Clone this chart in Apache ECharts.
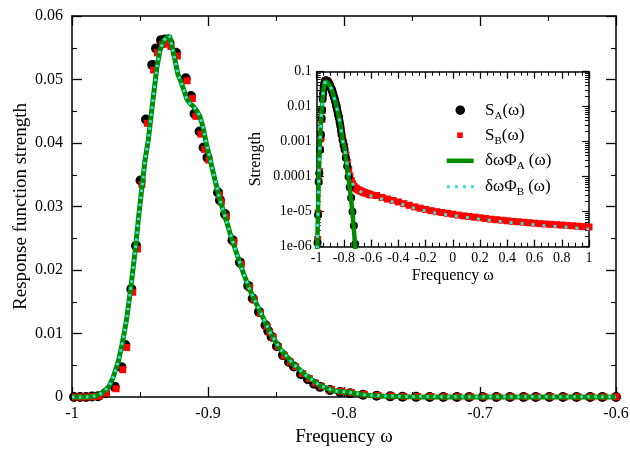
<!DOCTYPE html>
<html>
<head>
<meta charset="utf-8">
<script src="https://cdn.jsdelivr.net/npm/echarts@6/dist/echarts.min.js"></script>
<style>html,body{margin:0;padding:0;background:#fff}#c{width:630px;height:453px}</style>
</head>
<body>
<div id="c"></div>
<script>
// ---- data ----
const omegaMain = [-0.9985,-0.994,-0.9897,-0.9853,-0.9809,-0.9757,-0.9686,-0.9637,-0.9608,-0.9564,-0.9529,-0.9496,-0.9456,-0.941,-0.9382,-0.9345,-0.9316,-0.9283,-0.9235,-0.9164,-0.9125,-0.9099,-0.9062,-0.9033,-0.9004,-0.8926,-0.8912,-0.8875,-0.882,-0.8765,-0.8704,-0.8671,-0.8625,-0.8577,-0.8557,-0.8532,-0.8493,-0.8449,-0.8404,-0.8368,-0.8316,-0.8265,-0.822,-0.8176,-0.8103,-0.8029,-0.7956,-0.786,-0.776,-0.766,-0.757,-0.747,-0.737,-0.727,-0.717,-0.708,-0.698,-0.688,-0.678,-0.668,-0.659,-0.649,-0.639,-0.629,-0.619,-0.61,-0.6];
const sA = [2e-7,1.3e-6,8e-6,7e-5,1.25e-4,5.8e-4,0.0016,0.0047,0.0082,0.017,0.0238,0.0341,0.0437,0.0523,0.0549,0.0562,0.0563,0.0558,0.0542,0.0502,0.0474,0.0446,0.0418,0.0393,0.0377,0.0322,0.031,0.0288,0.0247,0.0212,0.0175,0.0155,0.0134,0.0113,0.0104,0.0095,0.008,0.0066,0.0055,0.0048,0.0036,0.0028,0.0021,0.0016,0.0011,0.0008,0.0006,3.5e-4,2e-4,1e-4,5e-5,2.5e-5,1e-5,4e-6,1.2e-6,3e-7,1e-7,5e-8,2e-8,1e-8,5e-9,3e-9,2e-9,1e-9,6e-10,4e-10,2e-10];
const omegaB = [-0.9975,-0.993,-0.9887,-0.9843,-0.9799,-0.9747,-0.9676,-0.9627,-0.9598,-0.9554,-0.9519,-0.9486,-0.9446,-0.94,-0.9372,-0.9335,-0.9306,-0.9273,-0.9225,-0.9154,-0.9115,-0.9089,-0.9052,-0.9023,-0.8994,-0.8916,-0.8902,-0.8865,-0.881,-0.8755,-0.8694,-0.8661,-0.8615,-0.8567,-0.8547,-0.8522,-0.8483,-0.8439,-0.8394,-0.8358,-0.8306,-0.8255,-0.821,-0.8166,-0.8093,-0.8019,-0.7946,-0.785,-0.775,-0.765,-0.756,-0.746,-0.736,-0.726,-0.716,-0.707,-0.697,-0.687,-0.677,-0.667,-0.658,-0.648,-0.638,-0.628,-0.618,-0.609,-0.6];
const sB = [4e-7,1.6e-6,9e-6,7.5e-5,1.4e-4,6e-4,0.0013,0.0043,0.0078,0.0165,0.0233,0.0335,0.0431,0.0515,0.0542,0.0555,0.0556,0.0552,0.0537,0.0498,0.047,0.0442,0.0414,0.039,0.0373,0.0318,0.0307,0.0284,0.0244,0.0209,0.0172,0.0153,0.0132,0.0111,0.0102,0.0094,0.0079,0.0065,0.0055,0.0048,0.0037,0.0029,0.0022,0.0017,0.0012,0.0009,0.0007,4.2e-4,2.6e-4,1.6e-4,1.05e-4,7.8e-5,6.2e-5,5.3e-5,4.8e-5,4.5e-5,4.25e-5,4.05e-5,3.9e-5,3.75e-5,3.6e-5,3.5e-5,3.4e-5,3.3e-5,3.2e-5,3.1e-5,3.0e-5];
const omegaTail = [-0.56,-0.52,-0.48,-0.44,-0.4,-0.36,-0.32,-0.28,-0.24,-0.2,-0.16,-0.12,-0.08,-0.04,0,0.04,0.08,0.12,0.16,0.2,0.24,0.28,0.32,0.36,0.4,0.44,0.48,0.52,0.56,0.6,0.64,0.68,0.72,0.76,0.8,0.84,0.88,0.92,0.96,1.0];
const sBTail = [2.9e-5,2.55e-5,2.3e-5,2.1e-5,1.9e-5,1.7e-5,1.52e-5,1.37e-5,1.26e-5,1.16e-5,1.07e-5,1.0e-5,9.5e-6,9.0e-6,8.5e-6,8.0e-6,7.6e-6,7.3e-6,7.0e-6,6.7e-6,6.4e-6,6.1e-6,5.9e-6,5.7e-6,5.5e-6,5.3e-6,5.15e-6,5.0e-6,4.85e-6,4.7e-6,4.55e-6,4.45e-6,4.35e-6,4.25e-6,4.15e-6,4.05e-6,3.95e-6,3.85e-6,3.75e-6,3.65e-6];
const phiBTail = [2.6e-5,2.3e-5,2.1e-5,1.9e-5,1.75e-5,1.55e-5,1.4e-5,1.25e-5,1.15e-5,1.06e-5,9.8e-6,9.0e-6,8.6e-6,8.2e-6,7.8e-6,7.4e-6,7.0e-6,6.7e-6,6.4e-6,6.1e-6,5.9e-6,5.6e-6,5.4e-6,5.2e-6,5.0e-6,4.85e-6,4.7e-6,4.55e-6,4.4e-6,4.25e-6,4.1e-6,4.0e-6,3.9e-6,3.8e-6,3.7e-6,3.6e-6,3.5e-6,3.4e-6,3.3e-6,3.2e-6];
const omegaPhi = [-1.0,-0.995,-0.99,-0.9868,-0.982,-0.978,-0.973,-0.9699,-0.9657,-0.9625,-0.9596,-0.9566,-0.9535,-0.9507,-0.948,-0.9463,-0.9439,-0.9402,-0.9375,-0.9353,-0.9324,-0.9283,-0.9257,-0.9243,-0.9221,-0.9193,-0.9157,-0.9132,-0.9108,-0.9081,-0.9059,-0.9037,-0.901,-0.8985,-0.8949,-0.8912,-0.8875,-0.8838,-0.8789,-0.874,-0.8691,-0.8618,-0.8544,-0.8471,-0.8373,-0.8274,-0.8176,-0.8079,-0.7956,-0.785,-0.77,-0.755,-0.74,-0.728,-0.718,-0.705,-0.69,-0.67,-0.64,-0.6];
const phiA = [1e-7,1.5e-6,1.2e-5,5e-5,2e-4,6e-4,0.0016,0.003,0.0058,0.009,0.0126,0.0175,0.0231,0.029,0.0341,0.0373,0.0405,0.0473,0.052,0.0546,0.0562,0.0569,0.0545,0.0531,0.0508,0.0493,0.047,0.0462,0.0458,0.045,0.0442,0.0425,0.0397,0.0375,0.0342,0.031,0.0285,0.0258,0.0226,0.0195,0.0168,0.0135,0.0102,0.0076,0.0052,0.0033,0.0018,0.001,0.0007,3.2e-4,1.2e-4,4e-5,1.2e-5,3.5e-6,1.1e-6,2e-7,5e-8,1e-8,2e-9,5e-10];
const phiB = [1e-7,1.5e-6,1.2e-5,5e-5,2e-4,6e-4,0.0016,0.003,0.0058,0.009,0.0126,0.0175,0.0231,0.029,0.0341,0.0373,0.0405,0.0473,0.052,0.0546,0.0562,0.0569,0.0545,0.0531,0.0508,0.0493,0.047,0.0462,0.0458,0.045,0.0442,0.0425,0.0397,0.0375,0.0342,0.031,0.0285,0.0258,0.0226,0.0195,0.0168,0.0135,0.0102,0.0076,0.0052,0.0033,0.0018,0.001,0.0007,3.6e-4,1.7e-4,9.5e-5,6.8e-5,5.5e-5,4.9e-5,4.4e-5,4.0e-5,3.6e-5,3.2e-5,2.8e-5];
const insetYLabels = ['1e-06','1e-05','0.0001','0.001','0.01','0.1'];
const legendNames = ['SA','SB','PhiA','PhiB'];
const legendTexts = {
  SA: '{n|S}{s|A}{n|(ω)}',
  SB: '{n|S}{s|B}{n|(ω)}',
  PhiA: '{n|δωΦ}{s|A}{n| (ω)}',
  PhiB: '{n|δωΦ}{s|B}{n| (ω)}'
};

// ---- build ----
const FONT = '"Liberation Serif", "Times New Roman", serif';
const zip = (xs, ys) => xs.map((x, i) => [x, ys[i]]);
const pos = d => d.filter(p => p[1] > 0);

const black = '#000';
const red = '#ff0000';
const green = '#008b00';
const cyan = '#40e0d0';

function xAx(grid, position, min, max, interval, minorSplit, showLabel, fs, tl, ml, extra) {
  return Object.assign({
    gridIndex: grid, type: 'value', position, min, max, interval,
    nameMoveOverlap: false,
    axisLine: {show: true, onZero: false, lineStyle: {color: black, width: 1.5}},
    axisTick: {show: true, inside: true, length: tl, lineStyle: {color: black, width: 1.3}},
    minorTick: {show: true, splitNumber: minorSplit, length: ml, lineStyle: {color: black, width: 1.1}},
    axisLabel: {show: showLabel, color: black, fontSize: fs, fontFamily: FONT, interval: 0, hideOverlap: false, showMinLabel: true, showMaxLabel: true},
    splitLine: {show: false}, minorSplitLine: {show: false}
  }, extra || {});
}

const minorLogTicks = [];
for (let e = -6; e < -1; e++) for (let k = 2; k <= 9; k++) minorLogTicks.push(+(k * Math.pow(10, e)).toPrecision(3));

const yMainLeft = xAx(0, 'left', 0, 0.06, 0.01, 2, true, 16, 10, 5, {
  name: 'Response function strength', nameLocation: 'middle', nameGap: 41,
  nameTextStyle: {fontSize: 19, color: black, fontFamily: FONT}
});
yMainLeft.axisLabel.margin = 9;
const yMainRight = xAx(0, 'right', 0, 0.06, 0.01, 2, false, 16, 10, 5);

function logAx(position, showLabel, extra) {
  return Object.assign({
    gridIndex: 1, type: 'log', logBase: 10, position, min: 1e-6, max: 0.1,
    nameMoveOverlap: false,
    axisLine: {show: true, onZero: false, lineStyle: {color: black, width: 1.5}},
    axisTick: {show: true, inside: true, length: 7, lineStyle: {color: black, width: 1.2}},
    minorTick: {show: false},
    axisLabel: {show: showLabel, color: black, fontSize: 14, fontFamily: FONT, margin: 5,
      formatter: v => insetYLabels[Math.round(Math.log10(v)) + 6]},
    splitLine: {show: false}
  }, extra || {});
}
function logMinor(position) {
  return {
    gridIndex: 1, type: 'log', logBase: 10, position, min: 1e-6, max: 0.1,
    axisLine: {show: false, onZero: false},
    axisTick: {show: true, inside: true, length: 4, customValues: minorLogTicks, lineStyle: {color: black, width: 1}},
    axisLabel: {show: false}, splitLine: {show: false}
  };
}

const xMainBottom = xAx(0, 'bottom', -1, -0.6, 0.1, 2, true, 16, 10, 5, {
  name: 'Frequency ω', nameLocation: 'middle', nameGap: 31,
  nameTextStyle: {fontSize: 19, color: black, fontFamily: FONT}
});
xMainBottom.axisLabel.margin = 9;
const xMainTop = xAx(0, 'top', -1, -0.6, 0.1, 2, false, 16, 10, 5);
const xInBottom = xAx(1, 'bottom', -1, 1, 0.2, 4, true, 14, 7, 4, {
  name: 'Frequency ω', nameLocation: 'middle', nameGap: 21,
  nameTextStyle: {fontSize: 16, color: black, fontFamily: FONT}
});
xInBottom.axisLabel.margin = 5;
const xInTop = xAx(1, 'top', -1, 1, 0.2, 4, false, 14, 7, 4);

const yInLeft = logAx('left', true, {
  name: 'Strength', nameLocation: 'middle', nameGap: 53,
  nameTextStyle: {fontSize: 16, color: black, fontFamily: FONT}
});
const yInRight = logAx('right', false);

function legend(name, centerY, left, w, h, icon, pad) {
  return {
    show: true, orient: 'vertical', left, top: centerY - 11, padding: 0,
    itemWidth: w, itemHeight: h, selectedMode: false,
    data: [{name, icon}],
    itemStyle: {borderWidth: 0, opacity: 1}, lineStyle: {width: 0},
    formatter: n => legendTexts[n],
    textStyle: {
      padding: [0, 0, 0, pad],
      rich: {
        n: {fontSize: 17, lineHeight: 22, color: black, fontFamily: FONT, verticalAlign: 'middle'},
        s: {fontSize: 11, lineHeight: 11, color: black, fontFamily: FONT, verticalAlign: 'bottom'}
      }
    }
  };
}

const dotsIcon = 'path://M0,0h3v3h-3z M8,0h3v3h-3z M16,0h3v3h-3z M24,0h3v3h-3z';

const mainSA = zip(omegaMain, sA);
const mainSB = zip(omegaB, sB);
const mainPA = zip(omegaPhi, phiA);
const mainPB = zip(omegaPhi, phiB);

const option = {
  animation: false,
  backgroundColor: '#fff',
  textStyle: {fontFamily: FONT},
  grid: [
    {left: 72, right: 14, top: 16, bottom: 56, outerBoundsMode: 'none', containLabel: false},
    {left: 316.7, top: 71.7, width: 272.3, height: 175, show: true, backgroundColor: '#fff', borderWidth: 0, outerBoundsMode: 'none', containLabel: false}
  ],
  xAxis: [xMainBottom, xMainTop, xInBottom, xInTop],
  yAxis: [yMainLeft, yMainRight, yInLeft, yInRight, logMinor('left'), logMinor('right')],
  legend: [
    legend('SA', 112.7, 455.5, 9.5, 9.5, 'circle', 15),
    legend('SB', 137.7, 457.2, 5.6, 5.6, 'rect', 17.2),
    legend('PhiA', 163.3, 446.7, 27, 4.5, 'rect', 6.3),
    legend('PhiB', 189.3, 447, 27, 3, dotsIcon, 6)
  ],
  series: [
    {name: 'SA', type: 'scatter', xAxisIndex: 0, yAxisIndex: 0, data: mainSA, symbol: 'circle', symbolSize: 10, itemStyle: {color: black, opacity: 1}, z: 2, clip: true},
    {name: 'SB', type: 'scatter', xAxisIndex: 0, yAxisIndex: 0, data: mainSB, symbol: 'rect', symbolSize: 7, itemStyle: {color: red, opacity: 1}, z: 3, clip: true},
    {name: 'PhiA', type: 'line', xAxisIndex: 0, yAxisIndex: 0, data: mainPA, showSymbol: false, symbol: 'none', clip: false, itemStyle: {color: green}, lineStyle: {color: green, width: 5}, z: 4},
    {name: 'PhiB', type: 'line', xAxisIndex: 0, yAxisIndex: 0, data: mainPB, showSymbol: false, symbol: 'none', clip: false, itemStyle: {color: cyan}, lineStyle: {color: cyan, width: 3, type: [2.5, 4.5]}, z: 5},

    {name: 'SB', type: 'scatter', xAxisIndex: 2, yAxisIndex: 2, data: pos(mainSB.concat(zip(omegaTail, sBTail))).filter(p => p[1] >= 1e-6), symbol: 'rect', symbolSize: 7, itemStyle: {color: red, opacity: 1}, z: 6, clip: true},
    {name: 'SA', type: 'scatter', xAxisIndex: 2, yAxisIndex: 2, data: pos(mainSA).filter(p => p[1] >= 1e-6), symbol: 'circle', symbolSize: 8, itemStyle: {color: black, opacity: 1}, z: 7, clip: true},
    {name: 'PhiA', type: 'line', xAxisIndex: 2, yAxisIndex: 2, data: pos(mainPA), showSymbol: false, symbol: 'none', clip: true, itemStyle: {color: green}, lineStyle: {color: green, width: 4.5}, z: 8},
    {name: 'PhiB', type: 'line', xAxisIndex: 2, yAxisIndex: 2, data: pos(mainPB.concat(zip(omegaTail, phiBTail))), showSymbol: false, symbol: 'none', clip: true, itemStyle: {color: cyan}, lineStyle: {color: cyan, width: 3, type: [3, 8]}, z: 9}
  ]
};

const chart = echarts.init(document.getElementById('c'), null, {renderer: 'canvas'});
chart.setOption(option);
</script>
</body>
</html>
